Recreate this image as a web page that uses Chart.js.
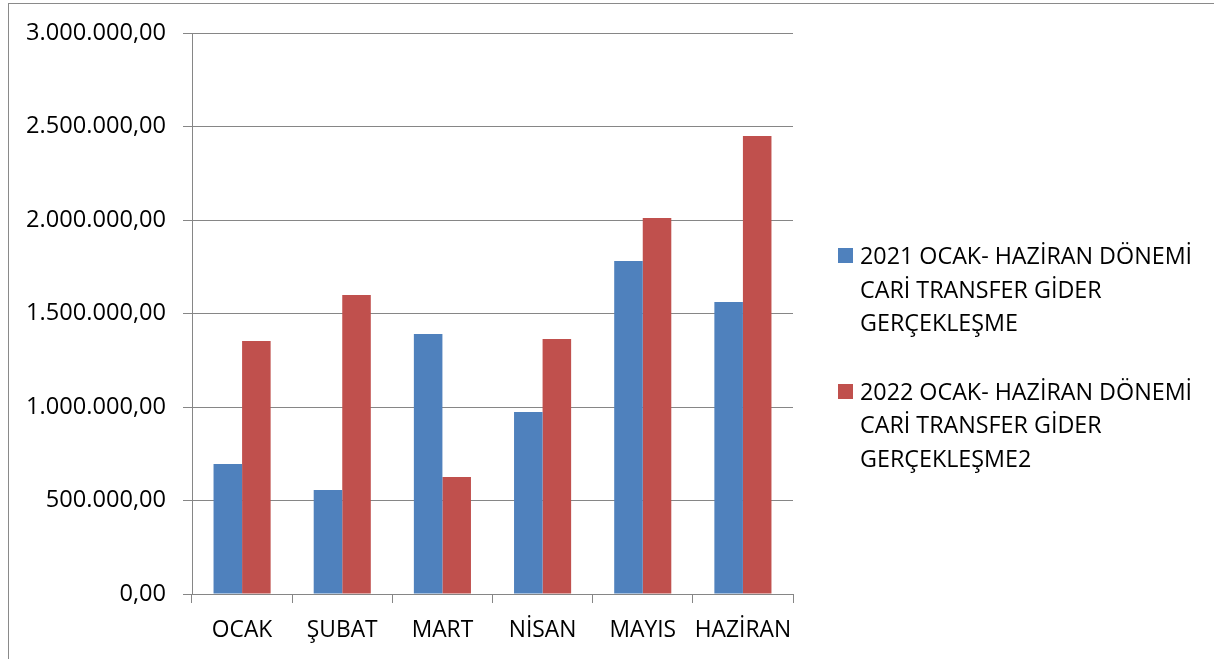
<!DOCTYPE html>
<html><head><meta charset="utf-8">
<script src="https://cdn.jsdelivr.net/npm/chart.js@4/dist/chart.umd.min.js"></script>
<style>
html,body{margin:0;padding:0;background:#fff;}
#wrap{position:relative;width:1214px;height:659px;overflow:hidden;}
#frame{position:absolute;left:8px;top:3px;width:1220px;height:700px;border-left:1.5px solid #8a8a8a;border-top:1.5px solid #8a8a8a;box-sizing:border-box;}
canvas{position:absolute;left:0;top:0;}
#legend{position:absolute;left:838px;top:239px;font-family:"Open Sans",sans-serif;font-size:23.3px;color:#000;line-height:33.5px;white-space:nowrap;}
.item{position:relative;padding-left:22px;margin-bottom:35px;}
.sw{position:absolute;left:0;top:9px;width:15px;height:15px;}
</style></head>
<body><div id="wrap"><div id="frame"></div><canvas id="c" width="1214" height="659"></canvas><div id="legend"></div></div>
<script>
const categories = ["OCAK","ŞUBAT","MART","NİSAN","MAYIS","HAZİRAN"];
const series2021 = [695000, 556000, 1390000, 973000, 1781000, 1561000];
const series2022 = [1353000, 1599000, 626000, 1364000, 2011000, 2449000];
const label2021 = ["2021 OCAK- HAZİRAN DÖNEMİ","CARİ TRANSFER GİDER","GERÇEKLEŞME"];
const label2022 = ["2022 OCAK- HAZİRAN DÖNEMİ","CARİ TRANSFER GİDER","GERÇEKLEŞME2"];
const yTicks = [0, 500000, 1000000, 1500000, 2000000, 2500000, 3000000];

function fmt(v){
  const s = Math.round(v).toString().replace(/\B(?=(\d{3})+(?!\d))/g, ".");
  return s + ",00";
}
const FONT = "'Open Sans', sans-serif";
const datasets = [
  {label: label2021.join(" "), data: series2021, backgroundColor: "#4F81BD"},
  {label: label2022.join(" "), data: series2022, backgroundColor: "#C0504D"}
];
const chart = new Chart(document.getElementById('c'), {
  type: 'bar',
  data: {labels: categories, datasets: datasets.map(d => Object.assign({barPercentage: 1.0, categoryPercentage: 0.57, borderWidth: 0}, d))},
  options: {
    responsive: false, animation: false,
    layout: {padding: {left: 0, right: 421, top: 33, bottom: 0}},
    plugins: {legend: {display: false}, tooltip: {enabled: false}},
    scales: {
      x: {
        grid: {display: true, drawOnChartArea: false, drawTicks: true, tickLength: 9, color: "#868686", offset: true},
        border: {display: true, color: "#868686", width: 1},
        ticks: {font: {family: FONT, size: 22.8}, color: "#000", padding: 14, maxRotation: 0, autoSkip: false},
        afterFit: s => { s.height = 659 - 594; }
      },
      y: {
        min: 0, max: 3000000,
        afterBuildTicks: s => { s.ticks = yTicks.map(v => ({value: v})); },
        grid: {color: "#868686", lineWidth: 1, drawTicks: true, tickLength: 9},
        border: {display: true, color: "#868686", width: 1},
        ticks: {font: {family: FONT, size: 23.6}, color: "#000", padding: 17, callback: v => fmt(v)},
        afterFit: s => { s.width = 192; }
      }
    }
  }
});
const lg = document.getElementById('legend');
[[label2021, "#4F81BD"], [label2022, "#C0504D"]].forEach(([lines, col]) => {
  const it = document.createElement('div'); it.className = 'item';
  const sw = document.createElement('span'); sw.className = 'sw'; sw.style.background = col; it.appendChild(sw);
  lines.forEach(t => { const d = document.createElement('div'); d.textContent = t; it.appendChild(d); });
  lg.appendChild(it);
});
</script></body></html>
